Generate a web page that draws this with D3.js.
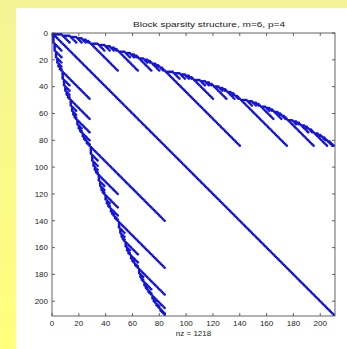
<!DOCTYPE html>
<html><head><meta charset="utf-8">
<script src="https://cdn.jsdelivr.net/npm/d3@7"></script>
<style>html,body{margin:0;padding:0;background:#fff;}svg{display:block;}</style>
</head><body>
<script>
// Chart parameters (from the title): m variables, degree p
const numVars = 6;
const degree = 4;
const xTicks = [0, 20, 40, 60, 80, 100, 120, 140, 160, 180, 200];
const yTicks = [0, 20, 40, 60, 80, 100, 120, 140, 160, 180, 200];
const titleText = "Block sparsity structure, m=6, p=4";
const xLabelText = "nz = 1218";

// Build the monomial basis (graded lex order) and the sparsity pattern
function monomials(m, d) {
  if (m === 1) return [[d]];
  const out = [];
  for (let a = d; a >= 0; a--) {
    monomials(m - 1, d - a).forEach(r => out.push([a].concat(r)));
  }
  return out;
}
const basis = [];
for (let d = 0; d <= degree; d++) monomials(numVars, d).forEach(e => basis.push(e));
const n = basis.length;
const idx = new Map(basis.map((e, i) => [e.join(","), i]));
const nzRows = [], nzCols = [];
basis.forEach((e, i) => {
  nzRows.push(i + 1); nzCols.push(i + 1);
  const deg = e.reduce((a, b) => a + b, 0);
  if (deg < degree) {
    for (let k = 0; k < numVars; k++) {
      const f = e.slice(); f[k]++;
      const j = idx.get(f.join(","));
      nzRows.push(i + 1); nzCols.push(j + 1);
      nzRows.push(j + 1); nzCols.push(i + 1);
    }
  }
});

const W = 347, H = 349;
const svg = d3.select("body").append("svg").attr("width", W).attr("height", H);
const defs = svg.append("defs");
const g1 = defs.append("linearGradient").attr("id", "bg").attr("x1", 0).attr("y1", 0).attr("x2", 0).attr("y2", 1);
g1.append("stop").attr("offset", 0).attr("stop-color", "#f4f496");
g1.append("stop").attr("offset", 1).attr("stop-color", "#ffff7c");
svg.append("rect").attr("width", W).attr("height", H).attr("fill", "url(#bg)");
svg.append("rect").attr("x", 16).attr("y", 8).attr("width", W - 16).attr("height", H - 8).attr("fill", "#fff");

const L = 52, T = 33, R = 335, B = 316;
const x = d3.scaleLinear().domain([0, n + 1]).range([L, R]);
const y = d3.scaleLinear().domain([0, n + 1]).range([T, B]);

const font = "Liberation Sans, Arial, Helvetica, sans-serif";
const axisColor = "#404040";

// points
svg.append("g").selectAll("circle").data(nzRows.map((r, i) => [nzCols[i], r]))
  .join("circle")
  .attr("cx", d => x(d[0])).attr("cy", d => y(d[1])).attr("r", 1.3)
  .attr("fill", "#1414d8");

// axes
const tl = 3;
const ax = svg.append("g");
ax.append("rect").attr("x", L).attr("y", T).attr("width", R - L).attr("height", B - T)
  .attr("fill", "none").attr("stroke", axisColor).attr("stroke-width", 0.8);
xTicks.forEach(t => {
  ax.append("line").attr("x1", x(t)).attr("x2", x(t)).attr("y1", B).attr("y2", B - tl).attr("stroke", axisColor).attr("stroke-width", 0.8);
  ax.append("line").attr("x1", x(t)).attr("x2", x(t)).attr("y1", T).attr("y2", T + tl).attr("stroke", axisColor).attr("stroke-width", 0.8);
  ax.append("text").attr("x", x(t)).attr("y", B + 10).attr("text-anchor", "middle")
    .attr("font-family", font).attr("font-size", 8).attr("fill", "#222").text(t);
});
yTicks.forEach(t => {
  ax.append("line").attr("y1", y(t)).attr("y2", y(t)).attr("x1", L).attr("x2", L + tl).attr("stroke", axisColor).attr("stroke-width", 0.8);
  ax.append("line").attr("y1", y(t)).attr("y2", y(t)).attr("x1", R).attr("x2", R - tl).attr("stroke", axisColor).attr("stroke-width", 0.8);
  ax.append("text").attr("x", L - 4).attr("y", y(t)).attr("dy", "0.35em").attr("text-anchor", "end")
    .attr("font-family", font).attr("font-size", 8).attr("fill", "#222").text(t);
});
svg.append("text").attr("x", 133).attr("y", 27).attr("text-anchor", "start")
  .attr("font-family", font).attr("font-size", 8).attr("fill", "#222")
  .attr("textLength", 152).attr("lengthAdjust", "spacingAndGlyphs").text(titleText);
svg.append("text").attr("x", (L + R) / 2).attr("y", 336).attr("text-anchor", "middle")
  .attr("font-family", font).attr("font-size", 8).attr("fill", "#222").text(xLabelText);
</script>
</body></html>
